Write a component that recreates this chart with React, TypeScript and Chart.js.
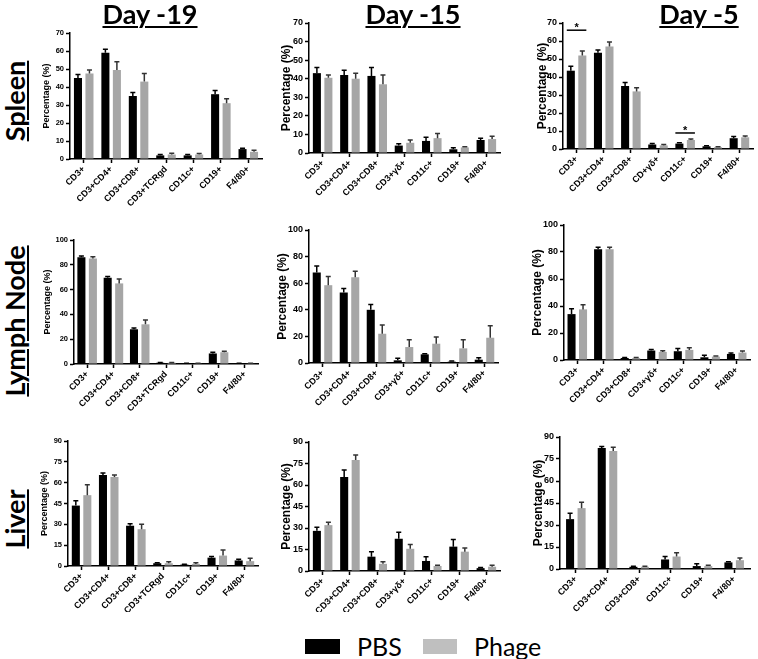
import React, { useEffect, useRef } from 'react';
import { Chart, registerables } from 'chart.js';
Chart.register(...registerables);

// ---------- categories ----------
const CATS_D19 = ['CD3+', 'CD3+CD4+', 'CD3+CD8+', 'CD3+TCRgd', 'CD11c+', 'CD19+', 'F4/80+'];
const CATS_D15 = ['CD3+', 'CD3+CD4+', 'CD3+CD8+', 'CD3+γδ+', 'CD11c+', 'CD19+', 'F4/80+'];
const CATS_D5_SPLEEN = ['CD3+', 'CD3+CD4+', 'CD3+CD8+', 'CD+γδ+', 'CD11c+', 'CD19+', 'F4/80+'];
const CATS_D5_LN = ['CD3+', 'CD3+CD4+', 'CD3+CD8+', 'CD3+γδ+', 'CD11c+', 'CD19+', 'F4/80+'];
const CATS_D5_LIVER = ['CD3+', 'CD3+CD4+', 'CD3+CD8+', 'CD11c+', 'CD19+', 'F4/80+'];

// ---------- y tick labels ----------
const TICKS_SPLEEN = [0, 10, 20, 30, 40, 50, 60, 70];
const TICKS_LN = [0, 20, 40, 60, 80, 100];
const TICKS_LIVER = [0, 15, 30, 45, 60, 75, 90];

const COLUMN_TITLES = ['Day -19', 'Day -15', 'Day -5'];
const ROW_TITLES = ['Spleen', 'Lymph Node', 'Liver'];
const SERIES = ['PBS', 'Phage'];
const Y_TITLE = 'Percentage (%)';

// ---------- Spleen ----------
const SP19_PBS = [45, 59, 35, 2, 2, 36, 5.5];
const SP19_PBS_ERR = [2, 2, 2, 0.5, 0.5, 2, 0.5];
const SP19_PHAGE = [47.5, 49.5, 43, 2.5, 2.5, 31, 4];
const SP19_PHAGE_ERR = [2, 4.5, 4.5, 0.7, 0.5, 2.5, 0.8];

const SP15_PBS = [43, 42, 41.5, 4, 6.5, 2, 7];
const SP15_PBS_ERR = [3, 2.5, 4.5, 1, 2, 0.8, 1];
const SP15_PHAGE = [40.5, 40, 37, 5.5, 8, 3, 7.5];
const SP15_PHAGE_ERR = [1.5, 3, 5, 1.5, 2.5, 0.3, 1.5];

const SP5_PBS = [43.5, 53.5, 35, 2.5, 3, 1.5, 6];
const SP5_PBS_ERR = [2.5, 1.5, 2, 0.5, 0.5, 0.3, 1];
const SP5_PHAGE = [52, 57, 32, 2, 5, 1, 6.5];
const SP5_PHAGE_ERR = [2.5, 2.5, 2, 0.5, 0.5, 0.3, 0.7];
const SP5_SIG_CATS = [0, 4];
const SP5_SIG_LEVELS = [66, 8.9];

// ---------- Lymph node ----------
const LN19_PBS = [86, 69.5, 28, 1, 0.5, 8.5, 0.5];
const LN19_PBS_ERR = [1, 1, 1, 0.3, 0.2, 1, 0.2];
const LN19_PHAGE = [85, 65, 32, 1, 0.5, 9.5, 0.5];
const LN19_PHAGE_ERR = [1.5, 3.5, 3.5, 0.3, 0.2, 0.8, 0.2];

const LN15_PBS = [68, 53, 40, 2, 6.5, 1, 2.5];
const LN15_PBS_ERR = [5, 3, 4, 1.5, 0.5, 0.5, 1.5];
const LN15_PHAGE = [58.5, 64.5, 22, 12, 14.5, 11, 19];
const LN15_PHAGE_ERR = [6.5, 4.5, 6.5, 5.5, 5, 6.5, 9];

const LN5_PBS = [34, 82, 1.5, 7, 6.5, 2, 4.5];
const LN5_PBS_ERR = [4, 1.5, 0.3, 0.8, 2, 1.5, 0.7];
const LN5_PHAGE = [37.5, 82, 1.5, 6, 7.5, 2.5, 5.5];
const LN5_PHAGE_ERR = [3.5, 1.5, 0.3, 0.8, 1.5, 0.5, 1.2];

// ---------- Liver ----------
const LV19_PBS = [43.5, 65.5, 29, 2, 1, 6, 4];
const LV19_PBS_ERR = [3.5, 1.5, 1.5, 0.4, 0.3, 0.8, 0.8];
const LV19_PHAGE = [51, 64, 26.5, 2, 1.5, 7.5, 3.5];
const LV19_PHAGE_ERR = [7.5, 1.5, 3.5, 1, 0.8, 4, 2];

const LV15_PBS = [28, 65.5, 10, 22.5, 7, 17, 2];
const LV15_PBS_ERR = [2.5, 5, 3.5, 4.5, 3, 5, 0.5];
const LV15_PHAGE = [32, 77.5, 5, 15.5, 3.5, 13.5, 3];
const LV15_PHAGE_ERR = [2, 3.5, 1.5, 3, 0.5, 2.5, 1];

const LV5_PBS = [34, 82.5, 1.5, 6.5, 2, 4.5];
const LV5_PBS_ERR = [4, 1, 0.3, 2, 1.5, 0.5];
const LV5_PHAGE = [41.5, 80.5, 1.5, 8.5, 2, 6];
const LV5_PHAGE_ERR = [4, 2.5, 0.3, 2.5, 0.5, 1.5];

// ---------- styles ----------
const PBS_COLOR = '#000000';
const PHAGE_COLOR = '#a6a6a6';
const LEGEND_GREY = '#bfbfbf';
const FONT = "'Liberation Sans', Arial, sans-serif";
const TITLE_FONT = "Lato, 'Open Sans', sans-serif";

type Panel = {
  cats: string[];
  pbs: number[]; pbsErr: number[];
  phage: number[]; phageErr: number[];
  ticks: number[];
  sigCats?: number[]; sigLevels?: number[];
  left: number; top: number; width: number; height: number;
  axisX: number; topY: number; zeroY: number; axisEnd: number;
  small: boolean;
};

const PANELS: Panel[] = [
  { cats: CATS_D19, pbs: SP19_PBS, pbsErr: SP19_PBS_ERR, phage: SP19_PHAGE, phageErr: SP19_PHAGE_ERR, ticks: TICKS_SPLEEN,
    left: 41, top: 25, width: 225, height: 200, axisX: 70, topY: 33, zeroY: 159, axisEnd: 262, small: true },
  { cats: CATS_D15, pbs: SP15_PBS, pbsErr: SP15_PBS_ERR, phage: SP15_PHAGE, phageErr: SP15_PHAGE_ERR, ticks: TICKS_SPLEEN,
    left: 279, top: 15, width: 225, height: 200, axisX: 309, topY: 23, zeroY: 153, axisEnd: 500, small: false },
  { cats: CATS_D5_SPLEEN, pbs: SP5_PBS, pbsErr: SP5_PBS_ERR, phage: SP5_PHAGE, phageErr: SP5_PHAGE_ERR, ticks: TICKS_SPLEEN,
    sigCats: SP5_SIG_CATS, sigLevels: SP5_SIG_LEVELS,
    left: 535, top: 15, width: 222, height: 200, axisX: 563, topY: 23, zeroY: 149, axisEnd: 753, small: false },
  { cats: CATS_D19, pbs: LN19_PBS, pbsErr: LN19_PBS_ERR, phage: LN19_PHAGE, phageErr: LN19_PHAGE_ERR, ticks: TICKS_LN,
    left: 42, top: 232, width: 220, height: 190, axisX: 74, topY: 240, zeroY: 364, axisEnd: 258, small: true },
  { cats: CATS_D15, pbs: LN15_PBS, pbsErr: LN15_PBS_ERR, phage: LN15_PHAGE, phageErr: LN15_PHAGE_ERR, ticks: TICKS_LN,
    left: 275, top: 222, width: 227, height: 200, axisX: 309, topY: 230, zeroY: 363, axisEnd: 498, small: false },
  { cats: CATS_D5_LN, pbs: LN5_PBS, pbsErr: LN5_PBS_ERR, phage: LN5_PHAGE, phageErr: LN5_PHAGE_ERR, ticks: TICKS_LN,
    left: 530, top: 217, width: 224, height: 200, axisX: 564, topY: 225, zeroY: 360, axisEnd: 750, small: false },
  { cats: CATS_D19, pbs: LV19_PBS, pbsErr: LV19_PBS_ERR, phage: LV19_PHAGE, phageErr: LV19_PHAGE_ERR, ticks: TICKS_LIVER,
    left: 39, top: 433, width: 223, height: 179, axisX: 68, topY: 441, zeroY: 566, axisEnd: 258, small: true },
  { cats: CATS_D15, pbs: LV15_PBS, pbsErr: LV15_PBS_ERR, phage: LV15_PHAGE, phageErr: LV15_PHAGE_ERR, ticks: TICKS_LIVER,
    left: 279, top: 434, width: 225, height: 178, axisX: 309, topY: 442, zeroY: 571, axisEnd: 500, small: false },
  { cats: CATS_D5_LIVER, pbs: LV5_PBS, pbsErr: LV5_PBS_ERR, phage: LV5_PHAGE, phageErr: LV5_PHAGE_ERR, ticks: TICKS_LIVER,
    left: 531, top: 429, width: 223, height: 183, axisX: 560, topY: 437, zeroY: 569, axisEnd: 750, small: false },
];

const errorBarPlugin = {
  id: 'errorBars',
  afterDatasetsDraw(chart: any) {
    const ctx = chart.ctx;
    const yScale = chart.scales.y;
    chart.data.datasets.forEach((ds: any, i: number) => {
      const meta = chart.getDatasetMeta(i);
      meta.data.forEach((bar: any, j: number) => {
        const v = ds.data[j];
        const e = ds.errors ? ds.errors[j] : 0;
        if (!e) return;
        const yTop = yScale.getPixelForValue(v + e);
        const x = bar.x;
        const cap = 5;
        ctx.save();
        ctx.strokeStyle = ds.errColor;
        ctx.lineWidth = 1.5;
        ctx.beginPath();
        ctx.moveTo(x, bar.y);
        ctx.lineTo(x, yTop);
        ctx.moveTo(x - cap / 2, yTop);
        ctx.lineTo(x + cap / 2, yTop);
        ctx.stroke();
        ctx.restore();
      });
    });
  },
};

const sigPlugin = {
  id: 'sigMarks',
  afterDatasetsDraw(chart: any, _args: any, opts: any) {
    if (!opts || !opts.cats) return;
    const ctx = chart.ctx;
    const yScale = chart.scales.y;
    const m0 = chart.getDatasetMeta(0);
    const m1 = chart.getDatasetMeta(1);
    opts.cats.forEach((c: number, k: number) => {
      const b0 = m0.data[c];
      const b1 = m1.data[c];
      const y = yScale.getPixelForValue(opts.levels[k]);
      const x0 = b0.x - b0.width / 2;
      const x1 = b1.x + b1.width / 2;
      ctx.save();
      ctx.strokeStyle = '#000';
      ctx.lineWidth = 1.5;
      ctx.beginPath();
      ctx.moveTo(x0, y);
      ctx.lineTo(x1, y);
      ctx.stroke();
      ctx.fillStyle = '#000';
      ctx.font = `bold 11px ${FONT}`;
      ctx.textAlign = 'center';
      ctx.textBaseline = 'alphabetic';
      ctx.fillText('*', (x0 + x1) / 2, y + 1);
      ctx.restore();
    });
  },
};

function ChartPanel({ p }: { p: Panel }) {
  const ref = useRef<HTMLCanvasElement>(null);
  useEffect(() => {
    const n = p.cats.length;
    const catW = (p.axisEnd - p.axisX) / n;
    const yW = p.axisX - p.left;
    const padTop = p.topY - p.top;
    const xH = p.top + p.height - p.zeroY;
    const padRight = p.left + p.width - p.axisEnd;
    const catPct = Math.min(0.95, 23 / catW);
    const tickFont = p.small ? 7.5 : 9;
    const titleSize = p.small ? 9 : 12;
    const chart = new Chart(ref.current as HTMLCanvasElement, {
      type: 'bar',
      data: {
        labels: p.cats,
        datasets: [
          { label: SERIES[0], data: p.pbs, errors: p.pbsErr, errColor: '#000', backgroundColor: PBS_COLOR,
            borderWidth: 0, categoryPercentage: catPct, barPercentage: 0.7 } as any,
          { label: SERIES[1], data: p.phage, errors: p.phageErr, errColor: '#333', backgroundColor: PHAGE_COLOR,
            borderWidth: 0, categoryPercentage: catPct, barPercentage: 0.7 } as any,
        ],
      },
      options: {
        responsive: false,
        animation: false,
        devicePixelRatio: 1,
        layout: { padding: { left: 0, top: padTop, right: padRight, bottom: 0 } },
        plugins: {
          legend: { display: false },
          tooltip: { enabled: false },
          sigMarks: p.sigCats ? { cats: p.sigCats, levels: p.sigLevels } : {},
        } as any,
        scales: {
          x: {
            offset: true,
            grid: { display: true, offset: false, drawOnChartArea: false, drawTicks: true, tickLength: 4, tickWidth: 1.5, tickColor: '#000' },
            border: { display: true, color: '#000', width: 1.5 },
            ticks: { autoSkip: false, minRotation: 45, maxRotation: 45, padding: 1, color: '#000',
              font: { family: FONT, size: 9, weight: 'bold' } },
            afterFit: (s: any) => { s.height = xH; },
          },
          y: {
            min: p.ticks[0],
            max: p.ticks[p.ticks.length - 1],
            grid: { display: true, drawOnChartArea: false, drawTicks: true, tickLength: 4, tickWidth: 1.5, tickColor: '#000' },
            border: { display: true, color: '#000', width: 1.5 },
            ticks: { stepSize: p.ticks[1] - p.ticks[0], padding: 2, color: '#000',
              font: { family: FONT, size: tickFont, weight: 'bold' } },
            title: { display: true, text: Y_TITLE, color: '#000', padding: 0,
              font: { family: FONT, size: titleSize, weight: 'bold' } },
            afterFit: (s: any) => { s.width = yW; },
          },
        },
      } as any,
      plugins: [errorBarPlugin, sigPlugin],
    });
    return () => chart.destroy();
  }, []);
  return (
    <canvas
      ref={ref}
      width={p.width}
      height={p.height}
      style={{ position: 'absolute', left: p.left, top: p.top, width: p.width, height: p.height }}
    />
  );
}

const COL_CENTERS = [150, 413, 699];
const ROW_CENTERS = [101, 321, 519];

export default function App() {
  useEffect(() => {
    document.body.style.margin = '0';
  }, []);
  return (
    <div style={{ position: 'relative', width: 758, height: 659, background: '#fff', overflow: 'hidden' }}>
      {PANELS.map((p, i) => <ChartPanel key={i} p={p} />)}
      {COLUMN_TITLES.map((t, i) => (
        <div key={'c' + i} style={{
          position: 'absolute', left: COL_CENTERS[i], top: 0, transform: 'translateX(-50%)',
          fontFamily: TITLE_FONT, fontWeight: 'bold', fontSize: 27, lineHeight: '28px',
          textDecoration: 'underline', textDecorationThickness: '2px', textUnderlineOffset: '2px', whiteSpace: 'nowrap', color: '#000',
        }}>{t}</div>
      ))}
      {ROW_TITLES.map((t, i) => (
        <div key={'r' + i} style={{
          position: 'absolute', left: 15, top: ROW_CENTERS[i], transform: 'translate(-50%, -50%) rotate(-90deg)',
          fontFamily: TITLE_FONT, fontWeight: 'bold', fontSize: 27, lineHeight: '28px',
          textDecoration: 'underline', textDecorationThickness: '2px', textUnderlineOffset: '2px', whiteSpace: 'nowrap', color: '#000',
        }}>{t}</div>
      ))}
      <div style={{ position: 'absolute', left: 305, top: 639, width: 35, height: 15, background: PBS_COLOR }} />
      <div style={{ position: 'absolute', left: 357, top: 631, fontFamily: TITLE_FONT, fontSize: 25, lineHeight: '30px', color: '#000' }}>{SERIES[0]}</div>
      <div style={{ position: 'absolute', left: 423, top: 639, width: 34, height: 15, background: LEGEND_GREY }} />
      <div style={{ position: 'absolute', left: 474, top: 631, fontFamily: TITLE_FONT, fontSize: 25, lineHeight: '30px', color: '#000' }}>{SERIES[1]}</div>
    </div>
  );
}
